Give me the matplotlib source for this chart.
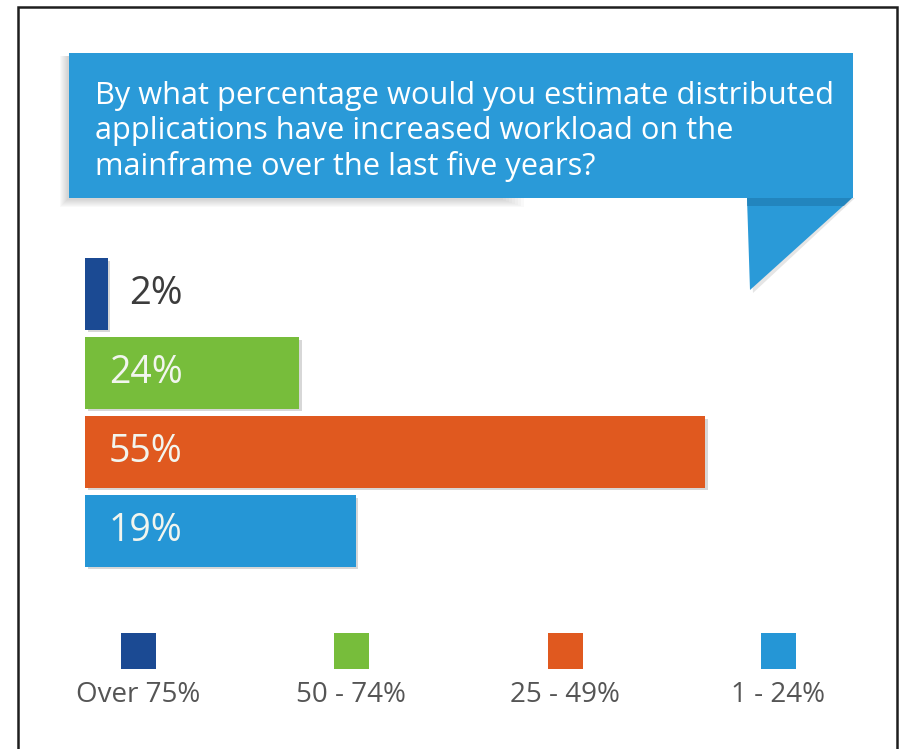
import matplotlib
matplotlib.use("Agg")
import matplotlib.pyplot as plt
from matplotlib.patches import Rectangle, Polygon
import matplotlib.patheffects as pe

# ---- data ----
title_lines = [
    "By what percentage would you estimate distributed",
    "applications have increased workload on the",
    "mainframe over the last five years?",
]
categories = ["Over 75%", "50 - 74%", "25 - 49%", "1 - 24%"]
bar_lengths = [2, 19, 55, 24]          # bar lengths as drawn in the picture
bar_labels = ["2%", "24%", "55%", "19%"]  # printed labels
colors = ["#1b4a93", "#77bd3b", "#e0591f", "#2596d6"]

W, H = 899, 749
fig = plt.figure(figsize=(W / 100, H / 100), dpi=100)
fig.patch.set_facecolor("white")

plt.rcParams['font.family'] = ['Open Sans', 'DejaVu Sans']

# background / decoration axes in pixel coords
bg = fig.add_axes([0, 0, 1, 1])
bg.set_xlim(0, W)
bg.set_ylim(H, 0)
bg.axis("off")

# frame
bg.plot([18, 18, 897, 897], [752, 7, 7, 752], color="#1e1e1e", lw=1.8, solid_joinstyle="miter")

# banner shadow (soft)
for i in range(8):
    d = 9 - i
    bg.add_patch(Rectangle((69 - d, 56), 455 + d - i * 3, 142 + d, facecolor="#666666",
                           alpha=0.035, lw=0, zorder=1))
# banner
banner_col = "#2a9ad8"
bg.add_patch(Rectangle((69, 53), 853 - 69, 198 - 53, facecolor=banner_col, lw=0, zorder=3))
# tail shadow
bg.add_patch(Polygon([(747, 198), (855, 198), (753, 293)], closed=True,
                     facecolor="#999999", alpha=0.25, lw=0, zorder=2))
bg.add_patch(Polygon([(747, 198), (852, 198), (750, 290)], closed=True,
                     facecolor=banner_col, lw=0, zorder=3))
bg.add_patch(Polygon([(747, 198), (852, 198), (844, 206), (747, 206)], closed=True,
                     facecolor="#1d78ae", alpha=0.6, lw=0, zorder=4))

# title text
texts = []
for i, line in enumerate(title_lines):
    t = bg.text(95, 96 + 35 * i, line, color="white", fontsize=19, va="center",
                ha="left", zorder=5, family=['Open Sans', 'DejaVu Sans'])
    texts.append(t)
fig.canvas.draw()
r = fig.canvas.get_renderer()
w0 = texts[0].get_window_extent(r).width
fs = 19 * 737 / w0
for t in texts:
    t.set_fontsize(fs)

# bars
ax = fig.add_axes([85 / W, (H - 570.5) / H, 789 / W, 316 / H])
ax.set_xlim(0, 70)
ax.set_ylim(3.5, -0.5)
ax.axis("off")
ax.patch.set_alpha(0)
ypos = list(range(len(categories)))
bars = ax.barh(ypos, bar_lengths, height=0.9, color=colors, lw=0)
for b in bars:
    b.set_path_effects([pe.SimplePatchShadow(offset=(2, -2), shadow_rgbFace="#b0b0b0", alpha=0.5),
                        pe.Normal()])
for i, (b, lab) in enumerate(zip(bars, bar_labels)):
    yc = b.get_y() + b.get_height() / 2
    if bar_lengths[i] < 5:
        ax.annotate(lab, (b.get_width(), yc), xytext=(22, 0), textcoords="offset pixels",
                    va="center", ha="left", fontsize=27.5, color="#3c3c3c")
    else:
        ax.annotate(lab, (0, yc), xytext=(24, 0), textcoords="offset pixels",
                    va="center", ha="left", fontsize=27, color="#f2f5ee")

# legend
leg_x = [138, 351, 565, 778]
for cx, c, lab in zip(leg_x, colors, categories):
    bg.add_patch(Rectangle((cx - 17.5, 633), 35, 36, facecolor=c, lw=0, zorder=3))
    bg.text(cx, 695, lab, ha="center", va="center", fontsize=20, color="#555555", zorder=3)

fig.savefig("out.png", dpi=100, facecolor="white")
